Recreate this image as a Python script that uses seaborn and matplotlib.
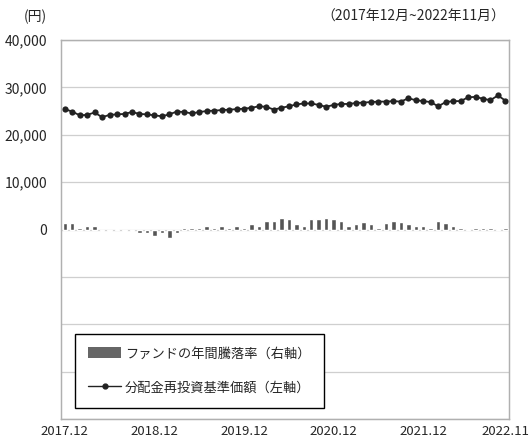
import numpy as np
import pandas as pd
import matplotlib.pyplot as plt
import seaborn as sns
from matplotlib.patches import Patch
from matplotlib.lines import Line2D

# monthly data 2017.12 - 2022.11
nav = [25400, 24900, 24100, 24200, 24700, 23700, 24200, 24300, 24400, 24800,
       24400, 24300, 24100, 23900, 24300, 24900, 24800, 24500, 24800, 25000,
       25100, 25200, 25300, 25400, 25500, 25700, 26000, 25900, 25300, 25700,
       26000, 26400, 26600, 26600, 26300, 25900, 26300, 26500, 26500, 26700,
       26800, 26900, 27000, 27000, 27100, 27000, 27700, 27300, 27100, 26900,
       26000, 26900, 27100, 27100, 27900, 28000, 27600, 27300, 28300, 27200]
ret = [6.4, 6.4, 2.1, 4.2, 4.2, -1.1, -1.1, 0.5, -2.1, -2.1,
       -4.2, -3.2, -6.4, -4.2, -8.5, -3.2, 1.1, 2.1, 1.1, 3.2,
       2.1, 3.2, 2.1, 3.2, 2.1, 5.3, 4.2, 8.5, 8.5, 11.7,
       10.6, 5.3, 3.2, 10.6, 10.6, 11.7, 10.6, 9.5, 3.2, 5.3,
       7.4, 5.3, 2.1, 6.4, 8.5, 7.4, 5.3, 4.2, 4.2, 2.1,
       9.5, 6.4, 4.2, 2.1, 0.5, 1.1, 2.1, 2.1, 0.5, 1.1]
tick_pos = [0, 12, 24, 36, 48, 59]
tick_labels = ["2017.12", "2018.12", "2019.12", "2020.12", "2021.12", "2022.11"]

sns.set_theme(style="white")
plt.rcParams['font.family'] = ['Noto Sans CJK JP', 'DejaVu Sans']

df = pd.DataFrame({"m": np.arange(len(nav)), "nav": nav, "ret": ret})

fig = plt.figure(figsize=(5.32, 4.45), dpi=100)
ax1 = fig.add_axes([0.1147, 0.0584, 0.8423, 0.8517])
ax2 = ax1.twinx()

sns.barplot(data=df, x="m", y="ret", ax=ax2, color="#555555", saturation=1,
            width=0.6, zorder=2)
ax2.set_ylim(-200, 200)
ax2.set_yticks([])
ax2.set_ylabel("")
ax2.set_xlabel("")

sns.lineplot(data=df, x="m", y="nav", ax=ax1, color="#222222", lw=1.3,
             marker="o", markersize=4.5, markeredgewidth=0, zorder=3)
ax1.set_ylim(-40000, 40000)
ax1.set_xlim(-0.5, 59.5)
yt = list(range(-40000, 40001, 10000))
ax1.set_yticks(yt)
ax1.set_yticklabels(["{:,}".format(v) if v >= 0 else "" for v in yt], fontsize=10)
ax1.set_xticks(tick_pos)
ax1.set_xticklabels(tick_labels, fontsize=9.5)
ax1.tick_params(axis="y", length=0, pad=10)
ax1.tick_params(axis="x", length=0, pad=4)
ax1.set_xlabel("")
ax1.set_ylabel("")
ax1.grid(axis="y", color="#cfcfcf", lw=0.9)
ax1.set_axisbelow(True)
for ax in (ax1, ax2):
    for s in ax.spines.values():
        s.set_color("#b0b0b0")
        s.set_linewidth(0.9)

fig.text(0.066, 0.962, "(円)", fontsize=10, ha="center", va="center")
fig.text(0.950, 0.962, "（2017年12月~2022年11月）", fontsize=10, ha="right", va="center")

handles = [Patch(facecolor="#666666", edgecolor="none"),
           Line2D([], [], color="#222222", lw=1, marker="o", markersize=3.5)]
labels = ["ファンドの年間騰落率（右軸）", "分配金再投資基準価額（左軸）"]
leg = ax2.legend(handles, labels, loc="upper left", bbox_to_anchor=(0.031, 0.224),
                 borderaxespad=0, fancybox=False, framealpha=1, edgecolor="black",
                 fontsize=9.5, labelspacing=1.6, handlelength=2.5, handletextpad=0.3,
                 borderpad=1.0, handleheight=0.9)
leg.get_frame().set_linewidth(1.0)
leg.set_zorder(10)

fig.savefig("out.png", dpi=100)
